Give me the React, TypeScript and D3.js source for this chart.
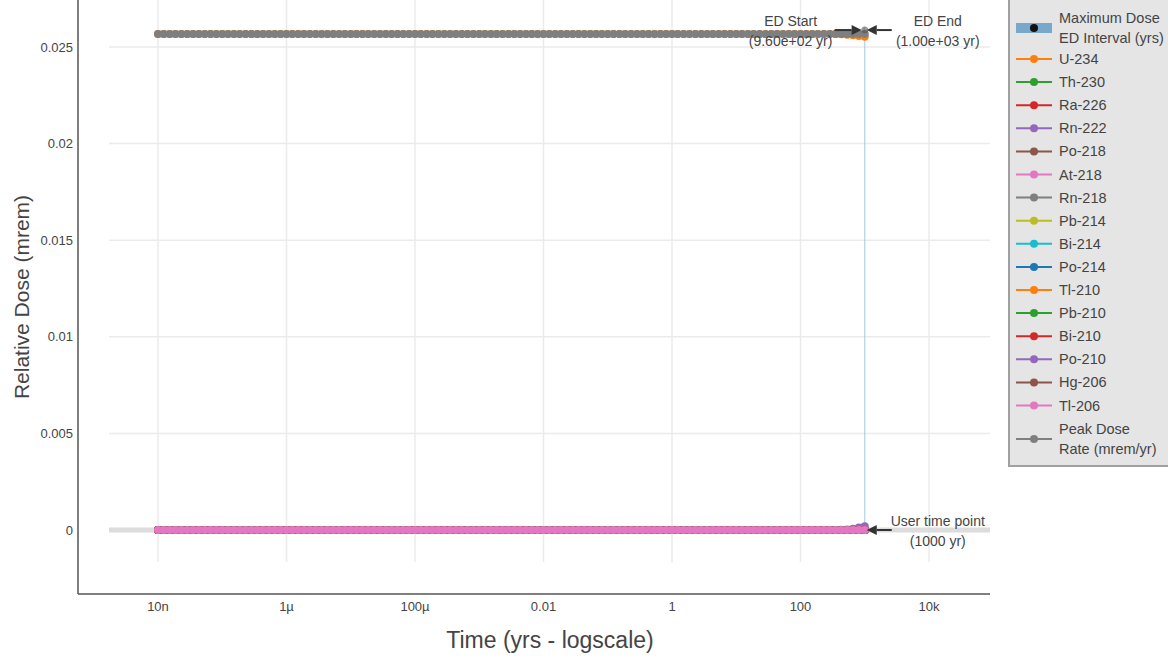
import React from "react";
import * as d3 from "d3";

// time grid (yrs): 11 log-spaced steps per decade, 1e-8 .. 1000
const mantissas = [1, 1.23, 1.52, 1.87, 2.31, 2.85, 3.51, 4.33, 5.34, 6.58, 8.11];
const decades = [-8, -7, -6, -5, -4, -3, -2, -1, 0, 1, 2];
const times = decades.flatMap(d => mantissas.map(m => m * Math.pow(10, d))).concat([1000]);

const nuclides = ["U-234", "Th-230", "Ra-226", "Rn-222", "Po-218", "At-218", "Rn-218", "Pb-214",
    "Bi-214", "Po-214", "Tl-210", "Pb-210", "Bi-210", "Po-210", "Hg-206", "Tl-206"];
const colours = ["#ff7f0e", "#2ca02c", "#d62728", "#9467bd", "#8c564b", "#e377c2", "#7f7f7f", "#bcbd22",
    "#17becf", "#1f77b4", "#ff7f0e", "#2ca02c", "#d62728", "#9467bd", "#8c564b", "#e377c2"];

// plateau level + last few values
const u234Level = 0.02567;
const u234Tail = [0.02566, 0.02564, 0.02561, 0.02557, 0.02553];
const rn222Level = 0;
const rn222Tail = [0.00001, 0.00003, 0.00007, 0.00013, 0.0002];
const peakLevel = 0.02567;

const yTicks = [0, 0.005, 0.01, 0.015, 0.02, 0.025];
const yTickLabels = ["0", "0.005", "0.01", "0.015", "0.02", "0.025"];
const xTicks = [1e-8, 1e-6, 1e-4, 1e-2, 1, 100, 1e4];
const xTickLabels = ["10n", "1µ", "100µ", "0.01", "1", "100", "10k"];

const edStart = 960;
const edEnd = 1000;
const userTime = 1000;

const withTail = (level: number, tail: number[]) =>
    times.map((t, i) => (i >= times.length - tail.length ? tail[i - (times.length - tail.length)] : level));

const seriesValues = (name: string) => {
    if (name === "U-234") return withTail(u234Level, u234Tail);
    if (name === "Rn-222") return withTail(rn222Level, rn222Tail);
    return withTail(0, []);
};

const font = "'Liberation Sans', Arial, sans-serif";
const ink = "#444";

const Arrow = ({x1, x2, y}: {x1: number, x2: number, y: number}) => {
    const dir = Math.sign(x2 - x1);
    const head = 10;
    return (
        <g>
            <line x1={x1} x2={x2 - dir * head} y1={y} y2={y} stroke="#333" strokeWidth={2}/>
            <path d={`M${x2},${y} L${x2 - dir * head},${y - 5} L${x2 - dir * head},${y + 5} Z`} fill="#333"/>
        </g>
    );
};

const TwoLines = ({x, y, a, b}: {x: number, y: number, a: string, b: string}) => (
    <text x={x} y={y} textAnchor="middle" fontSize={14} fill={ink} fontFamily={font}>
        <tspan x={x} dy="-0.3em">{a}</tspan>
        <tspan x={x} dy="1.45em">{b}</tspan>
    </text>
);

const App = () => {
    const width = 1168, height = 660;
    const x = d3.scaleLog().domain([1e-8, 1e4]).range([158, 929]);
    const y = d3.scaleLinear().domain([0, 0.025]).range([530, 47]);
    const line = d3.line<number>().x((d, i) => x(times[i])).y(d => y(d));

    const all = nuclides.map((n, i) => ({name: n, colour: colours[i], values: seriesValues(n)}));
    all.push({name: "Peak Dose Rate (mrem/yr)", colour: "#7f7f7f", values: withTail(peakLevel, [])});

    const yPeak = y(peakLevel) - 4;

    return (
        <svg width={width} height={height} style={{position: "absolute", left: 0, top: 0, background: "#fff"}}>
            {/* grid */}
            <g>
                {yTicks.filter(t => t !== 0).map(t => (
                    <line key={t} x1={109} x2={990} y1={y(t)} y2={y(t)} stroke="#ebebeb" strokeWidth={1.5}/>
                ))}
                {xTicks.map(t => (
                    <line key={t} x1={x(t)} x2={x(t)} y1={0} y2={562} stroke="#ebebeb" strokeWidth={1.5}/>
                ))}
                <line x1={109} x2={990} y1={y(0)} y2={y(0)} stroke="#dcdcdc" strokeWidth={5}/>
            </g>
            {/* axes */}
            <line x1={78} x2={78} y1={0} y2={594} stroke="#555" strokeWidth={1.5}/>
            <line x1={78} x2={990} y1={594} y2={594} stroke="#555" strokeWidth={1.5}/>
            {yTicks.map((t, i) => (
                <text key={t} x={73} y={y(t)} dy="0.35em" textAnchor="end" fontSize={13} fill={ink} fontFamily={font}>
                    {yTickLabels[i]}
                </text>
            ))}
            {xTicks.map((t, i) => (
                <text key={t} x={x(t)} y={611} textAnchor="middle" fontSize={13} fill={ink} fontFamily={font}>
                    {xTickLabels[i]}
                </text>
            ))}
            <text x={550} y={648} textAnchor="middle" fontSize={23} fill={ink} fontFamily={font}>Time (yrs - logscale)</text>
            <text transform={`translate(29,297) rotate(-90)`} textAnchor="middle" fontSize={21} fill={ink}
                  fontFamily={font}>Relative Dose (mrem)</text>

            {/* user time point marker */}
            <line x1={x(userTime)} x2={x(userTime)} y1={y(peakLevel)} y2={y(0)} stroke="#a6c8e0" strokeWidth={1}/>

            {/* series */}
            {all.map(s => (
                <g key={s.name}>
                    <path d={line(s.values) || ""} fill="none" stroke={s.colour} strokeWidth={2}/>
                    {s.values.map((v, i) => (
                        <circle key={i} cx={x(times[i])} cy={y(v)} r={4} fill={s.colour}/>
                    ))}
                </g>
            ))}

            {/* ED interval */}
            <rect x={x(edStart)} y={yPeak - 3} width={x(edEnd) - x(edStart)} height={6} fill="#1f77b4" opacity={0.4}/>
            <circle cx={x(edEnd)} cy={yPeak} r={3.5} fill="#555" opacity={0.6}/>

            {/* annotations */}
            <Arrow x1={x(edStart) - 29} x2={x(edStart) - 2} y={yPeak}/>
            <TwoLines x={x(edStart) - 73} y={yPeak} a="ED Start" b="(9.60e+02 yr)"/>
            <Arrow x1={x(edEnd) + 27} x2={x(edEnd) + 2} y={yPeak}/>
            <TwoLines x={x(edEnd) + 73} y={yPeak} a="ED End" b="(1.00e+03 yr)"/>
            <Arrow x1={x(userTime) + 27} x2={x(userTime) + 2} y={y(0)}/>
            <TwoLines x={x(userTime) + 73} y={y(0)} a="User time point" b="(1000 yr)"/>

            {/* legend */}
            <g>
                <rect x={1009} y={-5} width={170} height={471} fill="#e5e5e5" stroke="#a0a0a0" strokeWidth={2}/>
                <rect x={1016} y={23} width={36} height={10} fill="#1f77b4" opacity={0.55}/>
                <circle cx={1034} cy={28} r={4} fill="#111"/>
                <text x={1059} y={28} fontSize={14.5} fill={ink} fontFamily={font}>
                    <tspan x={1059} dy="-0.35em">Maximum Dose</tspan>
                    <tspan x={1059} dy="1.4em">ED Interval (yrs)</tspan>
                </text>
                {nuclides.map((n, i) => {
                    const ly = 59 + i * 23.1;
                    return (
                        <g key={n + i}>
                            <line x1={1016} x2={1052} y1={ly} y2={ly} stroke={colours[i]} strokeWidth={2}/>
                            <circle cx={1034} cy={ly} r={4} fill={colours[i]}/>
                            <text x={1059} y={ly} dy="0.35em" fontSize={14.5} fill={ink} fontFamily={font}>{n}</text>
                        </g>
                    );
                })}
                <line x1={1016} x2={1052} y1={439} y2={439} stroke="#7f7f7f" strokeWidth={2}/>
                <circle cx={1034} cy={439} r={4} fill="#7f7f7f"/>
                <text x={1059} y={439} fontSize={14.5} fill={ink} fontFamily={font}>
                    <tspan x={1059} dy="-0.35em">Peak Dose</tspan>
                    <tspan x={1059} dy="1.4em">Rate (mrem/yr)</tspan>
                </text>
            </g>
        </svg>
    );
};

export default App;
